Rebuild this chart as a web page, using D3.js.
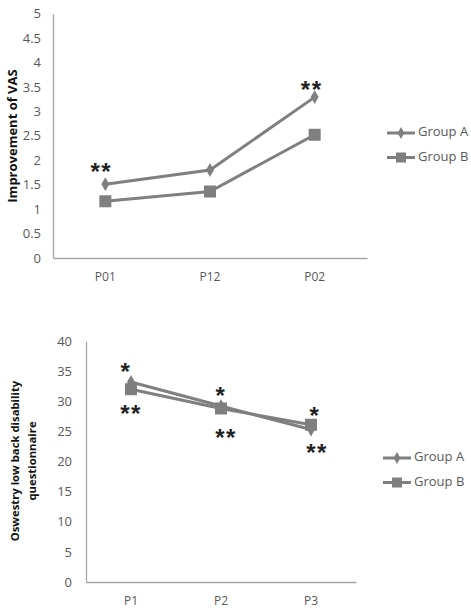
<!DOCTYPE html>
<html><head><meta charset="utf-8">
<script src="https://cdn.jsdelivr.net/npm/d3@7"></script>
<style>body{margin:0;background:#fff}svg{display:block}text{font-family:"Open Sans",sans-serif}</style>
</head><body>
<script>
const cats1 = ["P01","P12","P02"];
const groupA1 = [1.51, 1.8, 3.29];
const groupB1 = [1.16, 1.36, 2.52];
const yTicks1 = [0,0.5,1,1.5,2,2.5,3,3.5,4,4.5,5];
const stars1 = [
  {cat:"P01", v:1.51, text:"**", dx:-4, dy:-17},
  {cat:"P02", v:3.29, text:"**", dx:-3, dy:-12}
];

const cats2 = ["P1","P2","P3"];
const groupA2 = [33.2, 29.2, 25.3];
const groupB2 = [32.0, 28.8, 26.1];
const yTicks2 = [0,5,10,15,20,25,30,35,40];
const stars2 = [
  {cat:"P1", v:33.2, text:"*", dx:-5, dy:-15},
  {cat:"P1", v:32.0, text:"**", dx:0, dy:20},
  {cat:"P2", v:29.2, text:"*", dx:0, dy:-15},
  {cat:"P2", v:28.8, text:"**", dx:5, dy:25},
  {cat:"P3", v:26.1, text:"*", dx:4, dy:-14},
  {cat:"P3", v:25.3, text:"**", dx:6, dy:18}
];
const seriesNames = ["Group A","Group B"];

const W=471,H=610;
const svg=d3.select("body").append("svg").attr("width",W).attr("height",H);
const col="#7f7f7f", txtCol="#595959";

function drawChart(cfg){
  const g=svg.append("g");
  const x=d3.scaleBand().domain(cfg.cats).range([cfg.x0,cfg.x1]);
  const y=d3.scaleLinear().domain([0,cfg.ymax]).range([cfg.y0,cfg.y1]);
  const ya=g.append("g").attr("transform",`translate(${cfg.x0},0)`)
    .call(d3.axisLeft(y).tickValues(cfg.ticks).tickSize(0).tickPadding(cfg.tickPad).tickFormat(d=>d));
  ya.select(".domain").attr("stroke","#a6a6a6").attr("stroke-width",1.3);
  ya.selectAll("text").attr("fill",txtCol).style("font-size","13px").style("font-family","'Open Sans',sans-serif");
  const xa=g.append("g").attr("transform",`translate(0,${cfg.y0})`)
    .call(d3.axisBottom(x).tickSize(0).tickPadding(cfg.xPad));
  xa.select(".domain").attr("stroke","#a6a6a6").attr("stroke-width",1.3);
  xa.selectAll("text").attr("fill",txtCol).style("font-size","12px").style("font-family","'Open Sans',sans-serif");
  const cx=c=>x(c)+x.bandwidth()/2;
  const line=d3.line().x((d,i)=>cx(cfg.cats[i])).y(d=>y(d));
  [cfg.a,cfg.b].forEach((s,k)=>{
    g.append("path").attr("d",line(s)).attr("fill","none").attr("stroke",col).attr("stroke-width",3);
    s.forEach((v,i)=>{
      const px=cx(cfg.cats[i]), py=y(v);
      if(k===0){
        g.append("path").attr("d",d3.symbol(d3.symbolDiamond,55)()).attr("transform",`translate(${px},${py})`).attr("fill",col);
      } else {
        g.append("rect").attr("x",px-6).attr("y",py-6).attr("width",12).attr("height",12).attr("fill",col);
      }
    });
  });
  cfg.stars.forEach(s=>{
    g.append("text").attr("x",cx(s.cat)+s.dx).attr("y",y(s.v)+s.dy+13).attr("text-anchor","middle")
      .attr("fill","#222").style("font-size","24px").style("letter-spacing","1.5px").style("font-family","'Liberation Sans',sans-serif").style("font-weight","bold")
      .text(s.text);
  });
  seriesNames.forEach((n,k)=>{
    const ly=cfg.legY+k*cfg.legGap;
    g.append("line").attr("x1",cfg.legX).attr("x2",cfg.legX+28).attr("y1",ly).attr("y2",ly).attr("stroke",col).attr("stroke-width",3);
    if(k===0) g.append("path").attr("d",d3.symbol(d3.symbolDiamond,40)()).attr("transform",`translate(${cfg.legX+14},${ly})`).attr("fill",col);
    else g.append("rect").attr("x",cfg.legX+9).attr("y",ly-5).attr("width",10).attr("height",10).attr("fill",col);
    g.append("text").attr("x",cfg.legX+31).attr("y",ly).attr("dominant-baseline","middle").attr("fill",txtCol).style("font-size","13px").text(n);
  });
  const t=g.append("text").attr("transform",`translate(${cfg.titleX},${cfg.titleY}) rotate(-90)`).attr("text-anchor","middle")
    .attr("fill","#111").style("font-size",cfg.titleSize).style("font-weight","bold");
  cfg.title.forEach((ln,i)=>t.append("tspan").attr("x",0).attr("dy",i===0?0:17).text(ln));
}

drawChart({cats:cats1,a:groupA1,b:groupB1,ticks:yTicks1,ymax:5,x0:53,x1:367,y0:258,y1:13.5,tickPad:12,xPad:14,
  stars:stars1,legX:387,legY:133,legGap:24.5,title:["Improvement of VAS"],titleX:17,titleY:136,titleSize:"13px"});
drawChart({cats:cats2,a:groupA2,b:groupB2,ticks:yTicks2,ymax:40,x0:86,x1:356,y0:582,y1:341,tickPad:14,xPad:14,
  stars:stars2,legX:383,legY:458,legGap:24.5,title:["Oswestry low back disability","questionnaire"],titleX:19,titleY:461,titleSize:"11.3px"});
</script>
</body></html>
